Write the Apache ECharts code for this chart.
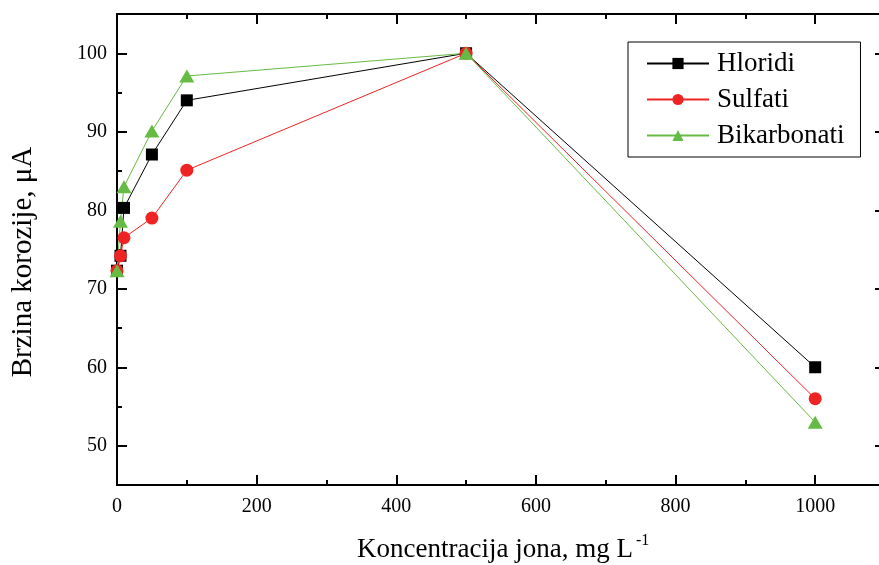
<!DOCTYPE html>
<html><head><meta charset="utf-8">
<script src="https://cdn.jsdelivr.net/npm/echarts@6/dist/echarts.min.js"></script>
<style>html,body{margin:0;padding:0;background:#fff}#c{width:879px;height:565px}</style>
</head><body><div id="c"></div>
<script>
var concentrations = [0, 5, 10, 50, 100, 500, 1000];
var hloridi = [72.3, 74.2, 80.3, 87.1, 94.0, 100, 60.0];
var sulfati = [72.3, 74.2, 76.5, 79.0, 85.1, 100, 56.0];
var bikarbonati = [72.3, 78.6, 83.0, 90.1, 97.1, 100, 53.0];
var seriesNames = ['Hloridi', 'Sulfati', 'Bikarbonati'];
var yMajorTicks = [50, 60, 70, 80, 90, 100];
var yMinorTicks = [55, 65, 75, 85, 95];
var xTitle = 'Koncentracija jona, mg L';
var xTitleSup = '-1';
var yTitle = 'Brzina korozije, \u03bcA';

function pairs(ys){ return concentrations.map(function(x,i){ return [x, ys[i]]; }); }

var FONT = '"Liberation Serif", "Times New Roman", serif';
var chart = echarts.init(document.getElementById('c'));
var axisLine = {show:true, lineStyle:{color:'#000', width:2}};
function yAx(pos, ticks, len, labels, line){
  return {type:'value', position:pos, min:45, max:105,
    axisLine: line ? axisLine : {show:false},
    axisTick:{show:true, inside:true, length:len, customValues:ticks, lineStyle:{color:'#000', width:2}},
    axisLabel: labels ? {show:true, customValues:ticks, color:'#000', fontFamily:FONT, fontSize:20, margin:10,
      formatter:function(v){ return String(v); }} : {show:false},
    splitLine:{show:false}};
}
function xAx(pos, labels){
  return {type:'value', position:pos, min:0, max:1100, interval:200,
    axisLine: axisLine,
    axisTick:{show:true, inside:true, length:10, lineStyle:{color:'#000', width:2}},
    minorTick:{show:true, splitNumber:2, length:5, lineStyle:{color:'#000', width:2}},
    axisLabel: labels ? {show:true, color:'#000', fontFamily:FONT, fontSize:20, margin:12,
      formatter:function(v){ return v > 1000 ? '' : String(v); }} : {show:false},
    splitLine:{show:false}, minorSplitLine:{show:false}};
}
var colors = ['#000000', '#ee2424', '#66bb44'];
var symbols = ['rect', 'circle', 'triangle'];
var sizes = [12, 13, [15, 13]];
var datas = [hloridi, sulfati, bikarbonati];
var series = seriesNames.map(function(n, i){
  return {name:n, type:'line', xAxisIndex:0, yAxisIndex:0, data:pairs(datas[i]),
    symbol:symbols[i], symbolSize:sizes[i], color:colors[i],
    lineStyle:{color:colors[i], width:1}, itemStyle:{color:colors[i]}};
});
chart.setOption({
  animation:false,
  backgroundColor:'#fff',
  grid:{left:117, top:14, bottom:80, right:-6, containLabel:false, outerBoundsMode:'none'},
  xAxis:[xAx('bottom', true), xAx('top', false)],
  yAxis:[yAx('left', yMajorTicks, 10, true, true), yAx('left', yMinorTicks, 5, false, false),
         yAx('right', yMajorTicks, 10, false, true), yAx('right', yMinorTicks, 5, false, false)],
  legend:{orient:'vertical', left:628, top:42, padding:[8,16,8,18], itemGap:9,
    itemWidth:62, itemHeight:14, borderColor:'#000', borderWidth:1,
    textStyle:{fontFamily:FONT, fontSize:27, color:'#000', padding:[0,0,0,3], lineHeight:26},
    data:seriesNames},
  graphic:[
    {type:'text', left:357, top:536, style:{text:xTitle, font:'27px ' + FONT, fill:'#000'}},
    {type:'text', left:636, top:533, style:{text:xTitleSup, font:'16px ' + FONT, fill:'#000'}},
    {type:'text', x:23, y:262, rotation:Math.PI/2, style:{text:yTitle, font:'29px ' + FONT, fill:'#000', align:'center', verticalAlign:'middle'}}
  ],
  series:series
});
</script></body></html>
